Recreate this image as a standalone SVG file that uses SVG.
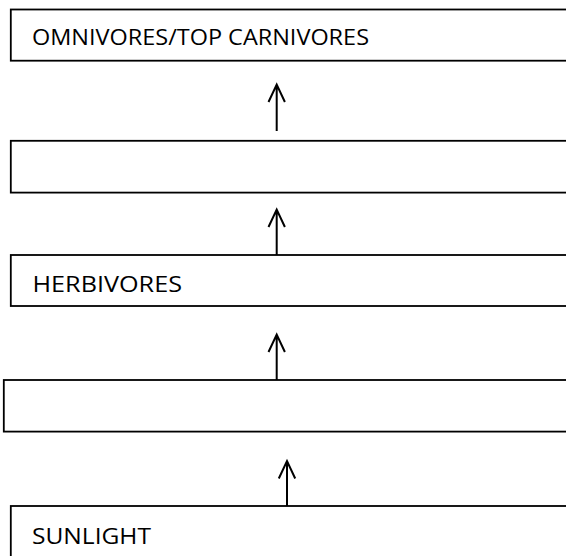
<svg xmlns="http://www.w3.org/2000/svg" width="566" height="556" viewBox="0 0 566 556">
<style>
.box{fill:#fff;stroke:#000;stroke-width:1.8}
.lbl{font-family:"Open Sans","Liberation Sans",Arial,sans-serif;font-size:22px;fill:#000}
.conn{stroke:#000;stroke-width:2;fill:none}
</style>
<rect width="566" height="556" fill="#fff"/>
<g id="omnivores"><rect class="box" x="10.8" y="9.5" width="570" height="51.2"/><text class="lbl" x="32" y="45" textLength="337" lengthAdjust="spacingAndGlyphs">OMNIVORES/TOP CARNIVORES</text></g>
<g id="carnivores"><rect class="box" x="10.8" y="140.8" width="570" height="51.8"/></g>
<g id="herbivores"><rect class="box" x="10.8" y="255" width="570" height="51"/><text class="lbl" x="32.5" y="292.3" textLength="149.5" lengthAdjust="spacingAndGlyphs">HERBIVORES</text></g>
<g id="producers"><rect class="box" x="3.8" y="380" width="570" height="51.6"/></g>
<g id="sunlight"><rect class="box" x="10.8" y="506" width="570" height="60"/><text class="lbl" x="32" y="544" textLength="119" lengthAdjust="spacingAndGlyphs">SUNLIGHT</text></g>
<g id="connectors">
<path class="conn" d="M276.7 131V84.5M268.5 102L276.7 84.5L284.9 102"/>
<path class="conn" d="M276.7 255V209.5M268.5 227L276.7 209.5L284.9 227"/>
<path class="conn" d="M276.7 380V334.5M268.5 352L276.7 334.5L284.9 352"/>
<path class="conn" d="M287 506V461M278.8 478.5L287 461L295.2 478.5"/>
</g>
</svg>
